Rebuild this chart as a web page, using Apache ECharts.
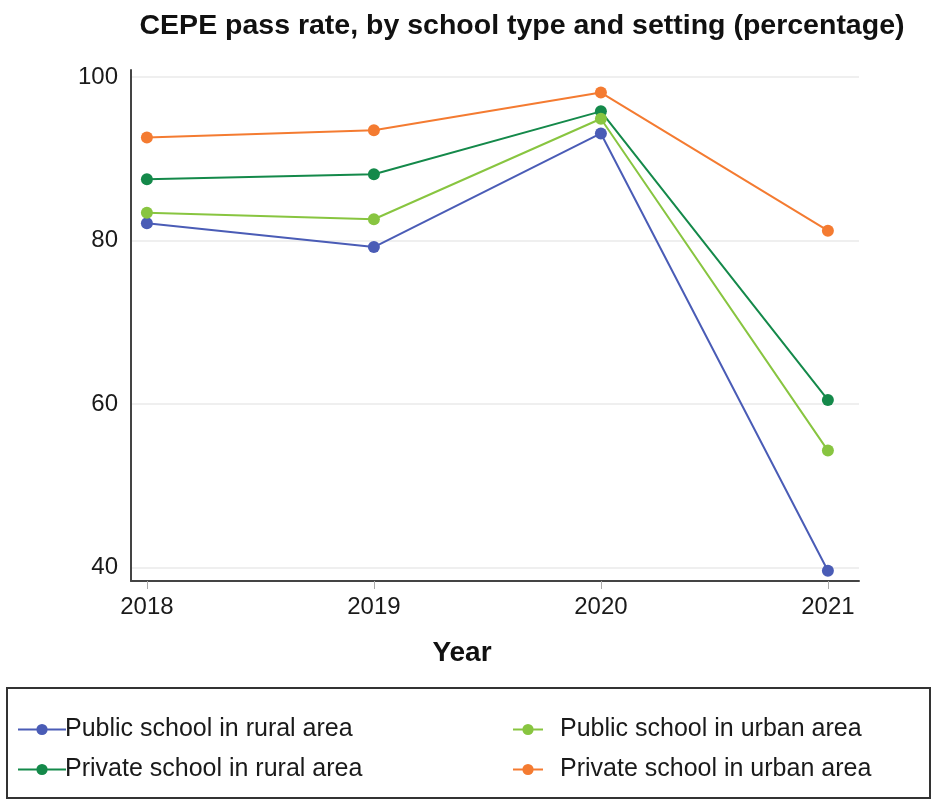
<!DOCTYPE html>
<html>
<head>
<meta charset="utf-8">
<title>CEPE pass rate</title>
<script src="https://cdn.jsdelivr.net/npm/echarts@6/dist/echarts.min.js"></script>
<style>
  html, body { margin: 0; padding: 0; background: #ffffff; }
  #chart { width: 935px; height: 802px; }
</style>
</head>
<body>
<div id="chart"></div>
<script>
// Exam years on the horizontal axis
const years = [2018, 2019, 2020, 2021];

// Pass rates (%) per school type and setting
const publicRural  = [82.1, 79.2, 93.1, 39.6];
const privateRural = [87.5, 88.1, 95.8, 60.5];
const publicUrban  = [83.4, 82.6, 94.9, 54.3];
const privateUrban = [92.6, 93.5, 98.1, 81.2];

// Value-axis tick labels
const yTicks = [40, 60, 80, 100];

const seriesNames = [
  'Public school in rural area',
  'Private school in rural area',
  'Public school in urban area',
  'Private school in urban area'
];
const seriesColors = ['#4a5cb6', '#14894a', '#88c540', '#f47b31'];
const seriesValues = [publicRural, privateRural, publicUrban, privateUrban];

const font = 'Liberation Sans, Arial, sans-serif';

const chart = echarts.init(document.getElementById('chart'), null, { renderer: 'canvas' });

const series = seriesNames.map((name, i) => ({
  name: name,
  type: 'line',
  data: years.map((y, j) => [y, seriesValues[i][j]]),
  symbol: 'circle',
  symbolSize: 12,
  lineStyle: { width: 2, color: seriesColors[i] },
  itemStyle: { color: seriesColors[i] },
  emphasis: { disabled: true },
  z: 3 + i
}));

const legendText = { fontFamily: font, fontSize: 25, color: '#1a1a1a' };

chart.setOption({
  animation: false,
  backgroundColor: '#ffffff',
  title: {
    text: 'CEPE pass rate, by school type and setting (percentage)',
    left: 517,
    top: 7,
    textAlign: 'center',
    textStyle: { fontFamily: font, fontSize: 28.5, fontWeight: 'bold', color: '#111' }
  },
  grid: { left: 131, right: 76, top: 70, bottom: 221, containLabel: false },
  xAxis: {
    type: 'value',
    min: 2017.93,
    max: 2021.137,
    name: 'Year',
    nameLocation: 'middle',
    nameGap: 58,
    nameTextStyle: {
      fontFamily: font, fontSize: 28, fontWeight: 'bold', color: '#111',
      padding: [0, 66, 0, 0]
    },
    axisLine: { show: true, lineStyle: { color: '#444', width: 2 } },
    axisTick: { show: true, customValues: years, length: 8, lineStyle: { color: '#aaa', width: 1 } },
    axisLabel: {
      customValues: years,
      formatter: v => String(v),
      margin: 14,
      fontFamily: font, fontSize: 24, color: '#1a1a1a'
    },
    splitLine: { show: false }
  },
  yAxis: {
    type: 'value',
    min: 38.35,
    max: 100.86,
    axisLine: { show: true, lineStyle: { color: '#444', width: 2 } },
    axisTick: { show: false, customValues: yTicks },
    axisLabel: {
      customValues: yTicks,
      margin: 13,
      fontFamily: font, fontSize: 24, color: '#1a1a1a'
    },
    splitLine: { show: true, lineStyle: { color: '#efefef', width: 2 } }
  },
  legend: [
    {
      data: [seriesNames[0], seriesNames[1]],
      orient: 'vertical',
      left: 12,
      top: 712,
      itemWidth: 48,
      itemHeight: 14,
      itemGap: 15,
      textStyle: Object.assign({ padding: [0, 0, 0, -6] }, legendText),
      selectedMode: false
    },
    {
      data: [seriesNames[2], seriesNames[3]],
      orient: 'vertical',
      left: 507,
      top: 712,
      itemWidth: 30,
      itemHeight: 14,
      itemGap: 15,
      textStyle: Object.assign({ padding: [0, 0, 0, 12] }, legendText),
      selectedMode: false
    }
  ],
  graphic: [
    {
      type: 'rect',
      shape: { x: 7, y: 688, width: 923, height: 110 },
      style: { fill: 'none', stroke: '#333', lineWidth: 2 },
      silent: true
    }
  ],
  series: series
});
</script>
</body>
</html>
